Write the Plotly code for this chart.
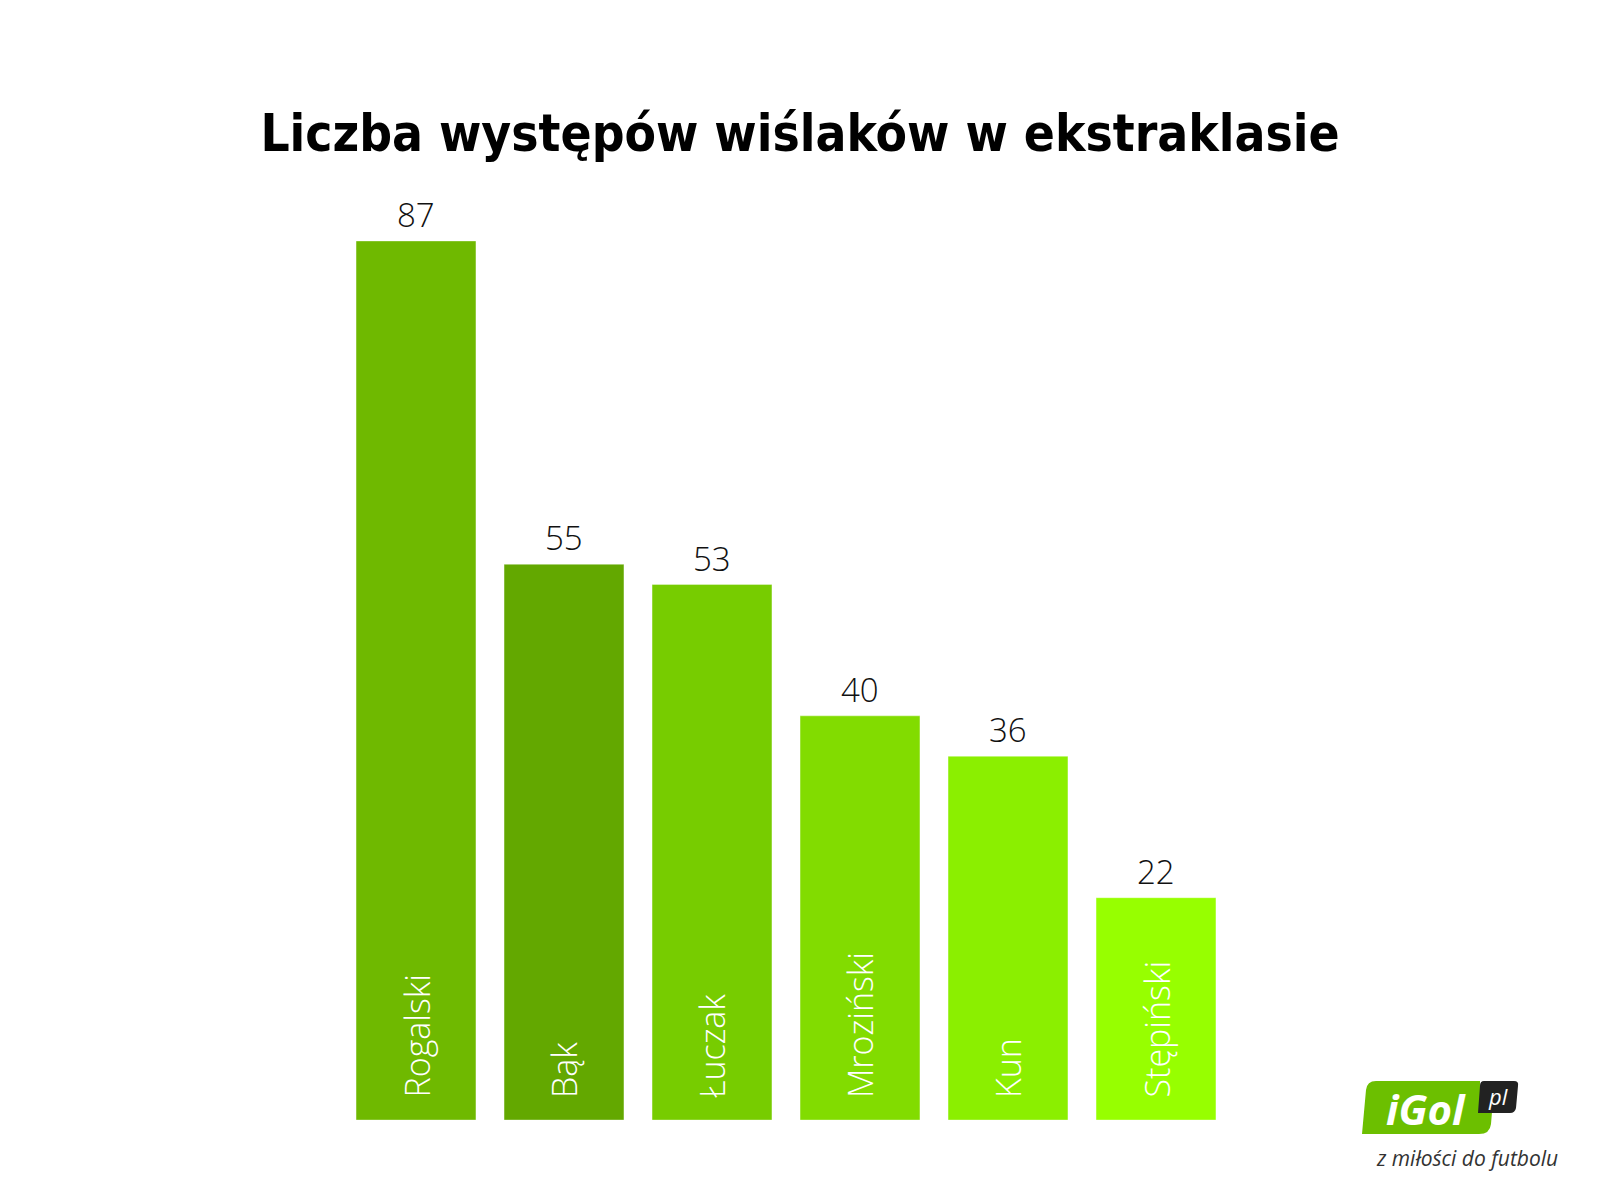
import plotly.graph_objects as go

players = ["Rogalski", "Bąk", "Łuczak", "Mroziński", "Kun", "Stępiński"]
appearances = [87, 55, 53, 40, 36, 22]
bar_colors = ["#6fb900", "#63a800", "#77cc00", "#82dc00", "#8bef00", "#97ff00"]
title_text = "Liczba występów wiślaków w ekstraklasie"

OFF = 8  # page body margin
W, H = 1600, 1200
L, T = 342 - OFF, 241 - OFF
R = W - 1230 + OFF
B = H - 1120 + OFF
PW, PH = W - L - R, H - T - B

def px(x):
    return (x - OFF - L) / PW

def py(y):
    return (H - B - (y - OFF)) / PH

fig = go.Figure()
fig.add_trace(go.Bar(
    x=players, y=appearances,
    marker=dict(color=bar_colors, line=dict(color="rgba(255,255,255,0.35)", width=1)),
    hoverinfo="skip", showlegend=False,
))

annotations = []
for name, v in zip(players, appearances):
    annotations.append(dict(
        x=name, y=v, xref="x", yref="y", text=str(v), showarrow=False,
        yanchor="bottom", yshift=2,
        font=dict(family="Open Sans", size=33, color="#111111", weight=300),
    ))
    annotations.append(dict(
        x=name, y=0, xref="x", yref="y", text=name, showarrow=False,
        textangle=-90, yanchor="bottom", xanchor="center", yshift=20,
        font=dict(family="Open Sans", size=34, color="#ffffff", weight=300),
    ))

# logo
def path_from(pts_px):
    s = ""
    for cmd, coords in pts_px:
        s += cmd
        s += " ".join(f"{px(coords[j]):.5f},{py(coords[j+1]):.5f}" for j in range(0, len(coords), 2))
        s += " "
    return s + "Z"

green_path = path_from([
    ("M", (1376, 1081)),
    ("L", (1480, 1081)),
    ("L", (1480, 1112)),
    ("L", (1492, 1112)),
    ("L", (1491, 1124)),
    ("Q", (1490, 1134, 1479, 1134)),
    ("L", (1362, 1134)),
    ("L", (1366, 1090)),
    ("Q", (1367, 1081, 1376, 1081)),
])
black_path = path_from([
    ("M", (1484, 1081)),
    ("L", (1514, 1081)),
    ("Q", (1519, 1081, 1518, 1086)),
    ("L", (1516, 1108)),
    ("Q", (1515, 1113, 1510, 1113)),
    ("L", (1478, 1113)),
    ("L", (1480, 1086)),
    ("Q", (1480, 1081, 1484, 1081)),
])
shapes = [
    dict(type="path", xref="paper", yref="paper", path=green_path,
         fillcolor="#6cbf00", line=dict(width=0), layer="above"),
    dict(type="path", xref="paper", yref="paper", path=black_path,
         fillcolor="#222222", line=dict(width=0), layer="above"),
]
annotations += [
    dict(x=px(1426), y=py(1108), xref="paper", yref="paper", text="<b><i>iGol</i></b>",
         showarrow=False, xanchor="center", yanchor="middle",
         font=dict(family="Open Sans", size=42, color="#ffffff")),
    dict(x=px(1498), y=py(1096), xref="paper", yref="paper", text="<i>pl</i>",
         showarrow=False, xanchor="center", yanchor="middle",
         font=dict(family="Open Sans", size=22, color="#ffffff")),
    dict(x=px(1467), y=py(1158), xref="paper", yref="paper", text="<i>z miłości do futbolu</i>",
         showarrow=False, xanchor="center", yanchor="middle",
         font=dict(family="Open Sans", size=21, color="#333333")),
]

fig.update_layout(
    width=W, height=H,
    margin=dict(l=L, r=R, t=T, b=B),
    paper_bgcolor="white", plot_bgcolor="white",
    bargap=0.19,
    title=dict(text=title_text, x=(800 - OFF) / W, xref="container", xanchor="center",
               y=1 - (133 - OFF) / H, yref="container", yanchor="middle",
               font=dict(family="Liberation Sans Narrow, DejaVu Sans Condensed, sans-serif",
                         size=51, color="#000000", weight=700)),
    xaxis=dict(visible=False, range=[-0.5, 5.5]),
    yaxis=dict(visible=False, range=[0, 87]),
    annotations=annotations,
    shapes=shapes,
)
fig.update_traces(cliponaxis=False)

fig.write_html("out.html")
